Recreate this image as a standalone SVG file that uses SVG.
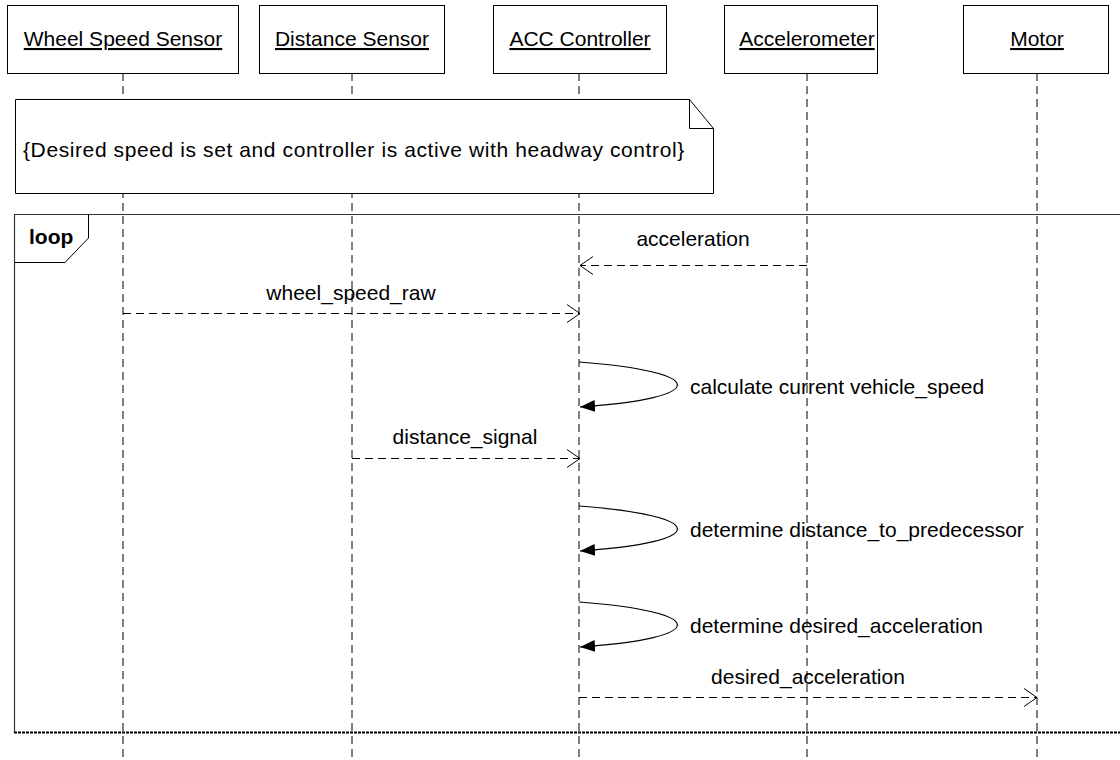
<svg xmlns="http://www.w3.org/2000/svg" width="1120" height="760" viewBox="0 0 1120 760">
  <style>
    text { font-family: "Liberation Sans", Arial, sans-serif; font-size: 21px; fill: #000; }
    .head { text-anchor: middle; text-decoration: underline; }
    .box { fill: #fff; stroke: #000; stroke-width: 1; }
    .life { stroke: #000; stroke-width: 1; stroke-dasharray: 8 5; fill: none; }
    .msg { stroke: #000; stroke-width: 1; stroke-dasharray: 8 5; fill: none; marker-end: url(#open); }
    .self { stroke: #000; stroke-width: 1.2; fill: none; marker-end: url(#solid); }
    .mid { text-anchor: middle; }
  </style>
  <defs>
    <marker id="open" markerWidth="16" markerHeight="20" refX="14" refY="10" orient="auto" markerUnits="userSpaceOnUse">
      <path d="M1,1 L14,10 L1,19" fill="none" stroke="#000" stroke-width="1"/>
    </marker>
    <marker id="solid" markerWidth="16" markerHeight="14" refX="15" refY="7" orient="auto" markerUnits="userSpaceOnUse">
      <path d="M0,1 L15,7 L0,13 Z" fill="#000"/>
    </marker>
  </defs>

  <rect width="1120" height="760" fill="#fff"/>

  <!-- lifelines -->
  <g id="lifelines">
    <line class="life" x1="123" y1="73" x2="123" y2="760"/>
    <line class="life" x1="352" y1="73" x2="352" y2="760"/>
    <line class="life" x1="579" y1="73" x2="579" y2="760"/>
    <line class="life" x1="807" y1="73" x2="807" y2="760"/>
    <line class="life" x1="1037" y1="73" x2="1037" y2="760"/>
  </g>

  <!-- participants -->
  <g id="wheel-speed-sensor">
    <rect class="box" x="7.5" y="5.5" width="231" height="68"/>
    <text class="head" x="123" y="46">Wheel Speed Sensor</text>
  </g>
  <g id="distance-sensor">
    <rect class="box" x="259.5" y="5.5" width="185" height="68"/>
    <text class="head" x="352" y="46">Distance Sensor</text>
  </g>
  <g id="acc-controller">
    <rect class="box" x="493.5" y="5.5" width="173" height="68"/>
    <text class="head" x="580" y="46">ACC Controller</text>
  </g>
  <g id="accelerometer">
    <rect class="box" x="724.5" y="5.5" width="153" height="68"/>
    <text class="head" x="807" y="46">Accelerometer</text>
  </g>
  <g id="motor">
    <rect class="box" x="963.5" y="5.5" width="145" height="68"/>
    <text class="head" x="1037" y="46">Motor</text>
  </g>

  <!-- precondition note -->
  <g id="note">
    <path d="M15.5,99.5 H689.5 L713.5,128.5 V193.5 H15.5 Z" fill="#fff" stroke="#000" stroke-width="1"/>
    <path d="M689.5,99.5 V128.5 H713.5" fill="none" stroke="#000" stroke-width="1"/>
    <text x="23" y="157" letter-spacing="0.6">{Desired speed is set and controller is active with headway control}</text>
  </g>

  <!-- loop fragment -->
  <g id="loop">
    <path d="M1120,214.5 H14.5 V732" fill="none" stroke="#333" stroke-width="1.2"/>
    <line x1="14" y1="732.5" x2="1120" y2="732.5" stroke="#000" stroke-width="2" stroke-dasharray="3 1"/>
    <path d="M14.5,262.5 H65 L88.5,238 V214.5" fill="#fff" stroke="#000" stroke-width="1"/>
    <text x="29" y="244" font-weight="bold">loop</text>
  </g>

  <!-- messages -->
  <g id="connectors">
    <line class="msg" x1="807" y1="265.5" x2="580" y2="265.5"/>
    <line class="msg" x1="123" y1="313.5" x2="580" y2="313.5"/>
    <path class="self" d="M579,362 C710,372 710,398 580,407"/>
    <line class="msg" x1="352" y1="458.5" x2="580" y2="458.5"/>
    <path class="self" d="M579,506 C710,516 710,542 580,551"/>
    <path class="self" d="M579,602 C710,612 710,638 580,647"/>
    <line class="msg" x1="579" y1="697.5" x2="1037" y2="697.5"/>
  </g>

  <g id="labels">
    <text class="mid" x="693" y="246">acceleration</text>
    <text class="mid" x="351" y="300">wheel_speed_raw</text>
    <text x="690" y="394">calculate current vehicle_speed</text>
    <text class="mid" x="465" y="444">distance_signal</text>
    <text x="690" y="537">determine distance_to_predecessor</text>
    <text x="690" y="633">determine desired_acceleration</text>
    <text class="mid" x="808" y="684">desired_acceleration</text>
  </g>
</svg>
